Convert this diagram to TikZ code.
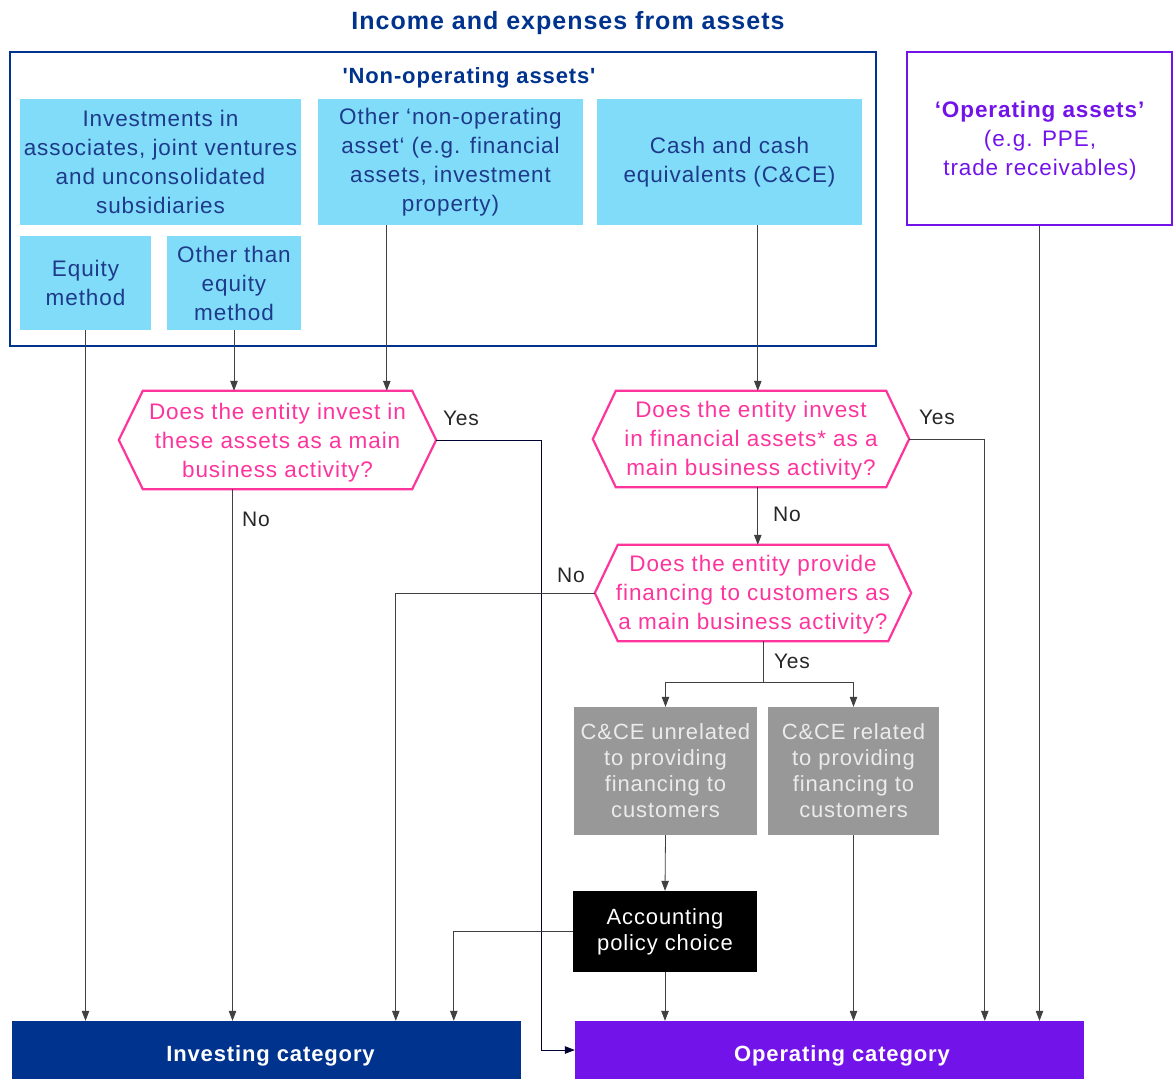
\documentclass[tikz,border=0pt]{standalone}
\usepackage{fontspec}
\setmainfont{Liberation Sans}[Ligatures=TeXOff,LetterSpace=4]
\usetikzlibrary{arrows.meta}
\definecolor{kblue}{HTML}{00338D}
\definecolor{ktext}{HTML}{1E3A8A}
\definecolor{lblue}{HTML}{81DCF9}
\definecolor{kpink}{HTML}{FD349C}
\definecolor{kpurple}{HTML}{7213EA}
\definecolor{kgrey}{HTML}{989898}
\tikzset{
  body/.style={font=\fontsize{22.5}{29}\selectfont},
  lbbox/.style={body, fill=lblue, text=ktext, inner sep=0pt, align=center},
  greybox/.style={fill=kgrey, text=white!92!black, inner sep=0pt, align=center, font=\fontsize{22}{26}\selectfont},
  blackbox/.style={fill=black, text=white, inner sep=0pt, align=center, font=\fontsize{22}{26}\selectfont},
  hexshape/.style={inner sep=0pt},
  hextext/.style={body, text=kpink, inner sep=0pt, align=center},
  hexline/.style={draw=kpink, line width=2.2pt, line join=miter},
  catbox/.style={fill=#1, text=white, inner sep=0pt, text height=22pt, text depth=0pt, font=\bfseries\fontsize{22}{25}\selectfont},
  conn/.style={draw=black!75, line width=0.8pt},
  arr/.style={conn, -{Triangle[length=10pt,width=7.5pt]}},
  lbl/.style={font=\fontsize{21}{25}\selectfont, text=black!85, inner sep=0pt},
}
\begin{document}
\begin{tikzpicture}[x=1pt,y=-1pt]
\useasboundingbox (0,0) rectangle (1176,1079);
% title
\node[font=\bfseries\fontsize{25}{29}\selectfont, text=kblue] (title) at (568,23) {Income and expenses from assets};
% non-operating frame
\node[draw=kblue, line width=2.5pt, minimum width=866pt, minimum height=294pt, inner sep=0pt] (nonopframe) at (443,199) {};
\node[font=\bfseries\fontsize{22}{26}\selectfont, text=kblue] (nonoptitle) at (469,78) {'Non-operating assets'};
\node[lbbox, minimum width=281pt, minimum height=126pt] (inv) at (160.5,162) {Investments in\\associates, joint ventures\\and unconsolidated\\subsidiaries};
\node[lbbox, minimum width=265pt, minimum height=126pt] (nonop) at (450.5,162) {Other ‘non-operating\\asset‘ (e.g. financial\\assets, investment\\property)};
\node[lbbox, minimum width=265pt, minimum height=126pt] (cash) at (729.5,162) {Cash and cash\\equivalents (C\&CE)};
\node[lbbox, minimum width=131pt, minimum height=94pt] (eq) at (85.5,283) {Equity\\method};
\node[lbbox, minimum width=134pt, minimum height=94pt] (oth) at (234,283) {Other than\\equity\\method};
% operating assets
\node[draw=kpurple, line width=2.5pt, minimum width=265pt, minimum height=173pt, inner sep=0pt] (opa) at (1039.5,138.5) {};
\node[body, text=kpurple, align=center] (opatext) at (1040,141) {\textbf{‘Operating assets’}\\(e.g. PPE,\\trade receivables)};
% hexagons
\node[hexshape, minimum width=317pt, minimum height=98pt] (q1) at (277.5,440) {};
\draw[hexline] (q1.west) -- ([xshift=24pt]q1.north west) -- ([xshift=-24pt]q1.north east) -- (q1.east) -- ([xshift=-24pt]q1.south east) -- ([xshift=24pt]q1.south west) -- cycle;
\node[hextext] (q1t) at ([yshift=-3pt]q1.center) {Does the entity invest in\\these assets as a main\\business activity?};
\node[hexshape, minimum width=316pt, minimum height=96pt] (q2) at (751,439) {};
\draw[hexline] (q2.west) -- ([xshift=23pt]q2.north west) -- ([xshift=-23pt]q2.north east) -- (q2.east) -- ([xshift=-23pt]q2.south east) -- ([xshift=23pt]q2.south west) -- cycle;
\node[hextext] (q2t) at ([yshift=-2pt]q2.center) {Does the entity invest\\in financial assets* as a\\main business activity?};
\node[hexshape, minimum width=316pt, minimum height=96pt] (q3) at (753,593) {};
\draw[hexline] (q3.west) -- ([xshift=23pt]q3.north west) -- ([xshift=-23pt]q3.north east) -- (q3.east) -- ([xshift=-23pt]q3.south east) -- ([xshift=23pt]q3.south west) -- cycle;
\node[hextext] (q3t) at ([yshift=-2pt]q3.center) {Does the entity provide\\financing to customers as\\a main business activity?};
% grey and black boxes
\node[greybox, minimum width=183pt, minimum height=128pt] (unrel) at (665.5,771) {C\&CE unrelated\\to providing\\financing to\\customers};
\node[greybox, minimum width=171pt, minimum height=128pt] (rel) at (853.5,771) {C\&CE related\\to providing\\financing to\\customers};
\node[blackbox, minimum width=184pt, minimum height=81pt] (acct) at (665,931.5) {Accounting\\policy choice};
% categories
\node[catbox=kblue, minimum width=509pt, minimum height=58pt] (invcat) at (266.5,1050) {\hspace*{8pt}Investing category};
\node[catbox=kpurple, minimum width=509pt, minimum height=58pt] (opcat) at (829.5,1050) {\hspace*{25pt}Operating category};
% helper coordinates
\coordinate (n1) at ([xshift=69pt]nonop.south west);
\coordinate (c2) at ([xshift=161pt]cash.south west);
\coordinate (q1s) at ([xshift=-45pt]q1.south);
\coordinate (q3s) at ([xshift=10pt]q3.south);
% connectors
\draw[arr] (eq.south) -- (eq.south |- invcat.north);
\draw[arr] (oth.south) -- (oth.south |- q1.north);
\draw[arr] (n1) -- (n1 |- q1.north);
\draw[arr] (c2) -- (c2 |- q2.north);
\draw[arr] (opa.south) -- (opa.south |- opcat.north);
\draw[conn, draw=black!80!blue, -{Triangle[length=10pt,width=7.5pt]}] (q1.east) -| ([xshift=-33pt]opcat.west) -- (opcat.west);
\draw[arr] (q1s) -- (q1s |- invcat.north);
\draw[arr] (c2 |- q2.south) -- (c2 |- q3.north);
\draw[arr] (q2.east) -| ([xshift=410pt]opcat.north west);
\draw[arr] (q3.west) -| ([xshift=384pt]invcat.north west);
\draw[conn] (q3s) -- ++(0,41) coordinate (split);
\draw[arr] (split) -| (unrel.north);
\draw[arr] (split) -| (rel.north);
\draw[arr] (unrel.south) -- (acct.north);
\draw[arr] (acct.west) -| ([xshift=442pt]invcat.north west);
\draw[arr] (acct.south) -- (acct.south |- opcat.north);
\draw[arr] (rel.south) -- (rel.south |- opcat.north);
% labels
\node[lbl] (l1) at (461,418) {Yes};
\node[lbl] (l2) at (256,519) {No};
\node[lbl] (l3) at (937,417) {Yes};
\node[lbl] (l4) at (787,514) {No};
\node[lbl] (l5) at (571,575) {No};
\node[lbl] (l6) at (792,661) {Yes};
\end{tikzpicture}
\end{document}
